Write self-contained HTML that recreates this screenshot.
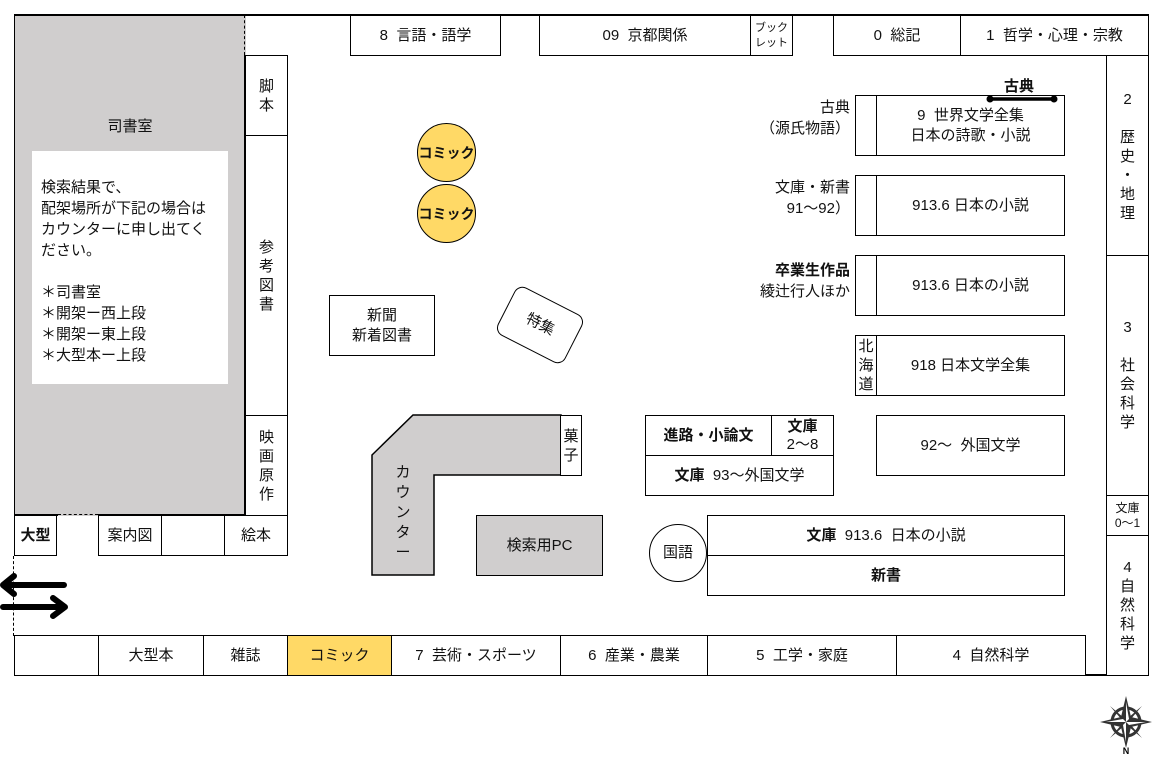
<!DOCTYPE html>
<html><head><meta charset="utf-8"><style>
body{margin:0;width:1175px;height:759px;background:#fff;position:relative;overflow:hidden;font-family:"Liberation Sans","Noto Sans CJK JP",sans-serif;font-size:15px;color:#111}
.b{position:absolute;border:1.5px solid #000;box-sizing:border-box;display:flex;align-items:center;justify-content:center;text-align:center;line-height:20px;background:#fff}
.t{position:absolute;line-height:21px}
.v{line-height:19px}
.g{background:#d0cece}
.y{background:#ffd966}
.bold{font-weight:bold}
</style></head><body>
<div style="position:absolute;left:14px;top:14px;width:1135px;height:1.5px;background:#000"></div>
<div style="position:absolute;left:1147px;top:14px;width:1.5px;height:662px;background:#000"></div>
<div style="position:absolute;left:14px;top:674px;width:1135px;height:1.5px;background:#000"></div>
<div class="b g" style="left:14px;top:15px;width:232px;height:501px;border-right:none;border-bottom:none;display:block"></div>
<div style="position:absolute;left:14px;top:514px;width:44px;height:1.5px;background:#000"></div>
<div style="position:absolute;left:98px;top:514px;width:148px;height:1.5px;background:#000"></div>
<div style="position:absolute;left:58px;top:514px;width:40px;border-top:1.5px dashed #000"></div>
<div style="position:absolute;left:244px;top:15px;height:40px;border-left:1.5px dashed #000"></div>
<div style="position:absolute;left:244px;top:55px;width:1.5px;height:460px;background:#000"></div>
<div class="t" style="left:14px;top:116px;width:232px;text-align:center">司書室</div>
<div style="position:absolute;left:32px;top:151px;width:196px;height:233px;background:#fff"></div>
<div class="t" style="left:41px;top:177px;line-height:21px">検索結果で、<br>配架場所が下記の場合は<br>カウンターに申し出てく<br>ださい。<br><br>＊司書室<br>＊開架ー西上段<br>＊開架ー東上段<br>＊大型本ー上段</div>
<div class="b v" style="left:245px;top:55px;width:43px;height:81px">脚<br>本</div>
<div class="b v" style="left:245px;top:135px;width:43px;height:281px">参<br>考<br>図<br>書</div>
<div class="b v" style="left:245px;top:415px;width:43px;height:101px">映<br>画<br>原<br>作</div>
<div class="b bold" style="left:14px;top:515px;width:43px;height:41px">大型</div>
<div class="b" style="left:98px;top:515px;width:64px;height:41px">案内図</div>
<div class="b" style="left:161px;top:515px;width:64px;height:41px"></div>
<div class="b" style="left:224px;top:515px;width:64px;height:41px">絵本</div>
<div style="position:absolute;left:13px;top:556px;height:80px;border-left:1.5px dashed #000"></div>
<svg style="position:absolute;left:0;top:570px" width="80" height="60"><g stroke="#000" stroke-width="6" fill="none" stroke-linecap="round" stroke-linejoin="round"><path d="M64 15 H4 M14 6 L3 15 L14 24"/><path d="M3 37 H64 M53 28 L65 37 L53 46"/></g></svg>
<div class="b" style="left:14px;top:635px;width:85px;height:41px"></div>
<div class="b" style="left:98px;top:635px;width:106px;height:41px">大型本</div>
<div class="b" style="left:203px;top:635px;width:85px;height:41px">雑誌</div>
<div class="b y" style="left:287px;top:635px;width:105px;height:41px">コミック</div>
<div class="b" style="left:391px;top:635px;width:170px;height:41px">7&nbsp; 芸術・スポーツ</div>
<div class="b" style="left:560px;top:635px;width:148px;height:41px">6&nbsp; 産業・農業</div>
<div class="b" style="left:707px;top:635px;width:190px;height:41px">5&nbsp; 工学・家庭</div>
<div class="b" style="left:896px;top:635px;width:190px;height:41px">4&nbsp; 自然科学</div>
<div class="b" style="left:350px;top:15px;width:151px;height:41px">8&nbsp; 言語・語学</div>
<div class="b" style="left:539px;top:15px;width:212px;height:41px">09&nbsp; 京都関係</div>
<div class="b" style="left:750px;top:15px;width:43px;height:41px;font-size:11px;line-height:15px">ブック<br>レット</div>
<div class="b" style="left:833px;top:15px;width:128px;height:41px">0&nbsp; 総記</div>
<div class="b" style="left:960px;top:15px;width:189px;height:41px">1&nbsp; 哲学・心理・宗教</div>
<div class="b v" style="left:1106px;top:55px;width:43px;height:201px;align-items:flex-start;padding-top:34px">2<br><br>歴<br>史<br>・<br>地<br>理</div>
<div class="b v" style="left:1106px;top:255px;width:43px;height:241px;align-items:flex-start;padding-top:62px">3<br><br>社<br>会<br>科<br>学</div>
<div class="b" style="left:1106px;top:495px;width:43px;height:41px;font-size:12px;line-height:15px">文庫<br>0～1</div>
<div class="b v" style="left:1106px;top:535px;width:43px;height:141px">4<br>自<br>然<br>科<br>学</div>
<div class="b y bold" style="left:417px;top:123px;width:59px;height:59px;border-radius:50%;font-size:14px">コミック</div>
<div class="b y bold" style="left:417px;top:184px;width:59px;height:59px;border-radius:50%;font-size:14px">コミック</div>
<div class="b" style="left:329px;top:295px;width:106px;height:61px">新聞<br>新着図書</div>
<div class="b" style="left:502px;top:298px;width:76px;height:54px;border-radius:9px;transform:rotate(27deg)">特集</div>
<svg style="position:absolute;left:0;top:0" width="1175" height="759"><polygon points="372,455 413,415 561,415 561,475 434,475 434,575 372,575" fill="#d0cece" stroke="#000" stroke-width="1.5"/>
<g transform="translate(1126,722)"><polygon points="0,-26 5,-5 26,0 5,5 0,26 -5,5 -26,0 -5,-5" fill="#333"/><polygon points="-16,-16 -2,-4 0,0 -4,-2" fill="#333"/><polygon points="16,-16 4,-2 0,0 2,-4" fill="#333"/><polygon points="16,16 2,4 0,0 4,2" fill="#333"/><polygon points="-16,16 -4,2 0,0 -2,4" fill="#333"/><circle r="14" fill="none" stroke="#333" stroke-width="3"/><polygon points="0,-20 3,-3 0,0" fill="#fff"/><polygon points="20,0 3,3 0,0" fill="#fff"/><polygon points="0,20 -3,3 0,0" fill="#fff"/><polygon points="-20,0 -3,-3 0,0" fill="#fff"/></g>
<text x="1126" y="754" font-size="9" font-weight="bold" text-anchor="middle" font-family="Liberation Sans">N</text>
</svg>
<div class="t v" style="left:393px;top:463px;width:20px;text-align:center;font-size:15px;line-height:20px">カ<br>ウ<br>ン<br>タ<br>ー</div>
<div class="b v" style="left:560px;top:415px;width:22px;height:61px">菓<br>子</div>
<div class="b g" style="left:476px;top:515px;width:127px;height:61px">検索用PC</div>
<div class="b" style="left:649px;top:524px;width:58px;height:58px;border-radius:50%">国語</div>
<div class="b bold" style="left:645px;top:415px;width:127px;height:41px">進路・小論文</div>
<div class="b" style="left:771px;top:415px;width:63px;height:41px;line-height:18px"><span><b>文庫</b><br>2～8</span></div>
<div class="b" style="left:645px;top:455px;width:189px;height:41px"><span><b>文庫</b>&nbsp; 93～外国文学</span></div>
<div class="b" style="left:707px;top:515px;width:358px;height:41px"><span><b>文庫</b>&nbsp; 913.6&nbsp; 日本の小説</span></div>
<div class="b bold" style="left:707px;top:555px;width:358px;height:41px">新書</div>
<div class="b" style="left:876px;top:415px;width:189px;height:61px">92～&nbsp; 外国文学</div>
<div class="b" style="left:855px;top:95px;width:22px;height:61px"></div>
<div class="b" style="left:876px;top:95px;width:189px;height:61px">9&nbsp; 世界文学全集<br>日本の詩歌・小説</div>
<div class="b" style="left:855px;top:175px;width:22px;height:61px"></div>
<div class="b" style="left:876px;top:175px;width:189px;height:61px">913.6 日本の小説</div>
<div class="b" style="left:855px;top:255px;width:22px;height:61px"></div>
<div class="b" style="left:876px;top:255px;width:189px;height:61px">913.6 日本の小説</div>
<div class="b" style="left:855px;top:335px;width:22px;height:61px;line-height:19px">北<br>海<br>道</div>
<div class="b" style="left:876px;top:335px;width:189px;height:61px">918 日本文学全集</div>
<svg style="position:absolute;left:980px;top:90px" width="85" height="20"><line x1="10" y1="9" x2="74" y2="9" stroke="#000" stroke-width="3.5"/><circle cx="10" cy="9" r="3.5"/><circle cx="74" cy="9" r="3.5"/></svg>
<div class="t bold" style="left:1004px;top:76px">古典</div>
<div class="t" style="left:700px;top:97px;width:150px;text-align:right">古典<br>（源氏物語）</div>
<div class="t" style="left:700px;top:177px;width:150px;text-align:right">文庫・新書<br>91～92）</div>
<div class="t" style="left:700px;top:260px;width:150px;text-align:right"><b>卒業生作品</b><br>綾辻行人ほか</div>
</body></html>
